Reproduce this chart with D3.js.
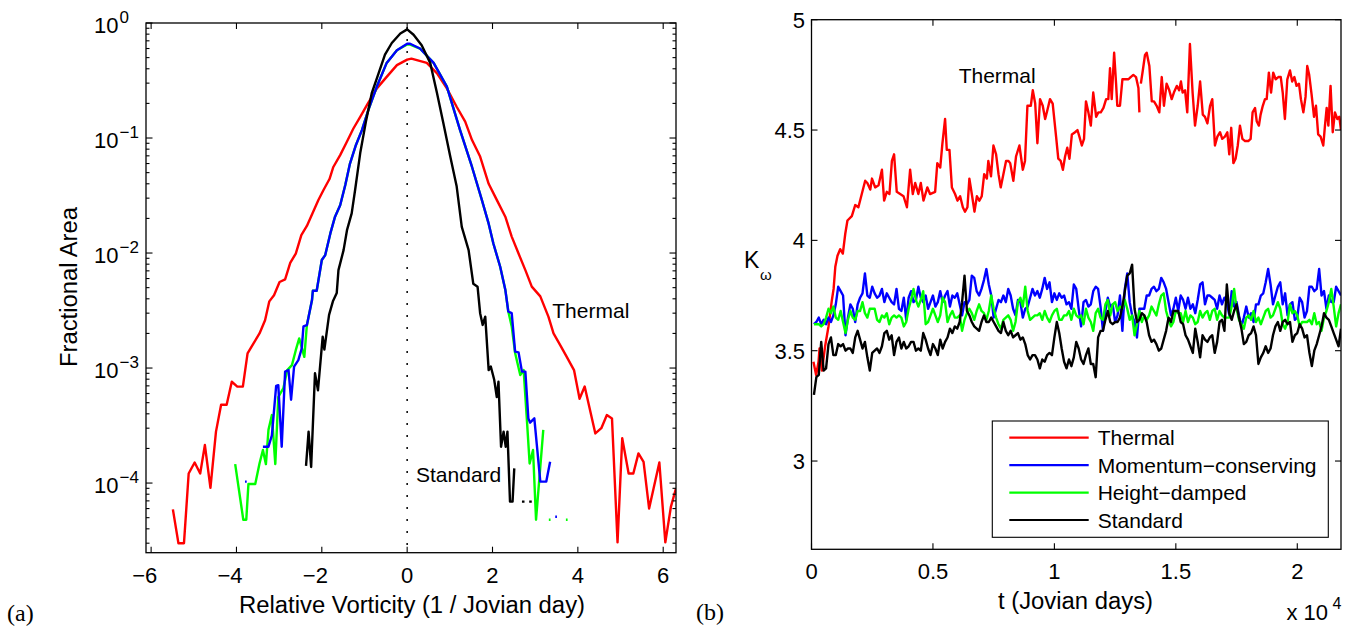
<!DOCTYPE html>
<html><head><meta charset="utf-8">
<script src="https://cdn.jsdelivr.net/npm/d3@7"></script>
<style>
body{margin:0;background:#fff}
svg{display:block}
text{font-family:"Liberation Sans",Arial,Helvetica,sans-serif;fill:#000}
</style>
</head><body>
<svg id="c" width="1365" height="633"></svg>
<script>
// ---------- Panel (a): vorticity PDFs ----------
const thermalVort = [-5.49,-5.36,-5.23,-5.12,-4.98,-4.85,-4.74,-4.61,-4.48,-4.36,-4.23,-4.11,-3.98,-3.85,-3.74,-3.60,-3.46,-3.33,-3.23,-3.12,-2.99,-2.86,-2.74,-2.61,-2.48,-2.35,-2.22,-2.08,-1.96,-1.82,-1.73,-1.57,-1.43,-1.26,-1.10,-0.94,-0.71,-0.48,-0.24,0.00,0.10,0.46,0.70,0.93,1.16,1.36,1.52,1.71,1.91,2.10,2.30,2.45,2.61,2.77,2.92,3.12,3.31,3.43,3.58,3.74,3.91,4.04,4.16,4.41,4.55,4.68,4.80,4.93,5.04,5.19,5.30,5.42,5.54,5.67,5.91,6.05,6.18,6.30];
const thermalArea = [5.9e-5,3.0e-5,3.0e-5,1.21e-4,1.51e-4,1.21e-4,2.14e-4,9.1e-5,2.8e-4,4.8e-4,4.8e-4,7.6e-4,6.9e-4,6.9e-4,1.34e-3,1.64e-3,2.0e-3,2.6e-3,3.8e-3,4.3e-3,5.6e-3,5.9e-3,8.2e-3,9.9e-3,1.43e-2,1.72e-2,2.21e-2,2.89e-2,3.53e-2,4.4e-2,5.6e-2,7.1e-2,9.0e-2,0.121,0.153,0.194,0.27,0.34,0.43,0.48,0.49,0.45,0.365,0.27,0.187,0.139,0.096,0.069,0.040,0.029,0.0207,0.0139,0.0099,0.0071,0.0051,0.0042,0.0028,0.0020,0.0016,0.00125,0.00096,0.00054,0.00069,0.00027,0.00030,0.00039,0.000365,0.0000305,0.000245,0.000121,0.000121,0.000181,0.000153,0.000060,0.000151,0.0000305,0.000062,0.000090];

const heightVort = [-4.03,-3.84,-3.77,-3.72,-3.56,-3.46,-3.38,-3.31,-3.25,-3.17,-3.09,-3.02,-2.90,-2.81,-2.70,-2.61,-2.53,-2.41,-2.35,-2.23,-2.21,-2.12,-2.00,-1.92,-1.80,-1.69,-1.57,-1.45,-1.34,-1.20,-1.06,-0.91,-0.71,-0.48,-0.24,0.00,0.07,0.30,0.62,0.93,1.24,1.52,1.75,1.91,2.02,2.18,2.30,2.37,2.45,2.53,2.65,2.73,2.81,2.87,2.95,3.02,3.19,null,3.32,3.36,null,3.72,3.76];
const heightArea = [1.46e-4,4.8e-5,4.8e-5,9.8e-5,9.8e-5,1.48e-4,1.94e-4,1.46e-4,2.9e-4,3.9e-4,1.46e-4,5.6e-4,6.7e-4,9.6e-4,1.06e-3,1.43e-3,1.81e-3,1.25e-3,2.36e-3,3.9e-3,4.7e-3,4.7e-3,8.7e-3,9.6e-3,1.48e-2,2.07e-2,2.6e-2,3.9e-2,6.0e-2,8.7e-2,0.117,0.175,0.28,0.45,0.58,0.65,0.65,0.60,0.45,0.28,0.117,0.056,0.029,0.018,0.0121,0.0076,0.0048,0.0031,0.0023,0.00135,8.7e-4,9.6e-4,3.35e-4,1.48e-4,1.94e-4,4.8e-5,2.9e-4,null,4.8e-5,4.8e-5,null,4.8e-5,4.8e-5];

const momentumVort = [-3.80,-3.76,null,-3.38,-3.25,-3.17,-3.07,-3.02,-2.94,-2.86,-2.78,-2.72,-2.65,-2.55,-2.47,-2.43,-2.35,-2.23,-2.21,-2.12,-2.00,-1.92,-1.80,-1.69,-1.57,-1.45,-1.34,-1.20,-1.06,-0.91,-0.71,-0.48,-0.24,0.00,0.07,0.30,0.62,0.93,1.24,1.52,1.75,1.91,2.02,2.18,2.30,2.37,2.45,2.53,2.61,2.69,2.77,2.84,2.88,2.98,3.12,3.26,3.35,null,3.47,3.51];
const momentumArea = [1.03e-4,1.03e-4,null,2.07e-4,2.07e-4,2.6e-4,7.0e-4,7.1e-4,2.07e-4,9.3e-4,9.6e-4,5.3e-4,1.03e-3,1.17e-3,1.48e-3,2.3e-3,2.36e-3,3.9e-3,4.7e-3,4.7e-3,8.7e-3,9.6e-3,1.48e-2,2.07e-2,2.6e-2,3.9e-2,6.0e-2,8.7e-2,0.117,0.175,0.28,0.45,0.58,0.66,0.66,0.60,0.45,0.28,0.117,0.056,0.029,0.018,0.0121,0.0076,0.0048,0.0031,0.0030,1.39e-3,1.37e-3,9.3e-4,9.3e-4,3.65e-4,3.35e-4,3.65e-4,1.03e-4,1.03e-4,1.53e-4,null,5.1e-5,5.1e-5];

const standardVort = [-2.37,-2.31,-2.25,-2.16,-2.09,-1.98,-1.94,-1.83,-1.74,-1.65,-1.61,-1.49,-1.41,-1.30,-1.22,-1.10,-0.96,-0.83,-0.67,-0.52,-0.36,-0.16,0.00,0.15,0.34,0.54,0.70,0.85,1.01,1.16,1.28,1.44,1.55,1.65,1.71,1.77,1.83,1.91,1.96,2.04,2.10,2.14,2.20,2.26,2.31,2.35,2.41,2.47,2.51,null,2.69,2.75,null,2.86,2.92];
const standardArea = [1.41e-4,2.8e-4,1.38e-4,9.0e-4,6.4e-4,1.87e-3,1.45e-3,2.9e-3,3.8e-3,4.5e-3,7.1e-3,1.06e-2,1.58e-2,2.21e-2,3.53e-2,7.4e-2,0.143,0.245,0.365,0.53,0.67,0.81,0.88,0.79,0.64,0.45,0.245,0.134,0.069,0.038,0.0169,0.0106,0.0054,0.0051,0.0030,2.37e-3,2.8e-3,9.6e-4,1.03e-3,7.9e-4,5.6e-4,7.6e-4,2.07e-4,2.8e-4,2.07e-4,2.8e-4,6.9e-5,6.9e-5,1.34e-4,null,6.9e-5,6.9e-5,null,6.9e-5,6.9e-5];

const vortTicks = [-6,-4,-2,0,2,4,6];
const vortTickLabels = ["\u22126","\u22124","\u22122","0","2","4","6"];
const areaTickExps = [0,-1,-2,-3,-4];
const areaTickExpLabels = ["0","\u22121","\u22122","\u22123","\u22124"];

// ---------- Panel (b): kurtosis time series ----------
const days = [100,200,300,400,500,600,700,800,900,1000,1100,1200,1300,1400,1500,1600,1700,1800,1900,2000,2100,2200,2300,2400,2500,2600,2700,2800,2900,3000,3100,3200,3300,3400,3500,3600,3700,3800,3900,4000,4100,4200,4300,4400,4500,4600,4700,4800,4900,5000,5100,5200,5300,5400,5500,5600,5700,5800,5900,6000,6100,6200,6300,6400,6500,6600,6700,6800,6900,7000,7100,7200,7300,7400,7500,7600,7700,7800,7900,8000,8100,8200,8300,8400,8500,8600,8700,8800,8900,9000,9100,9200,9300,9400,9500,9600,9700,9800,9900,10000,10100,10200,10300,10400,10500,10600,10700,10800,10900,11000,11100,11200,11300,11400,11500,11600,11700,11800,11900,12000,12100,12200,12300,12400,12500,12600,12700,12800,12900,13000,13100,13200,13300,13400,13500,13600,13700,13800,13900,14000,14100,14200,14300,14400,14500,14600,14700,14800,14900,15000,15100,15200,15300,15400,15500,15600,15700,15800,15900,16000,16100,16200,16300,16400,16500,16600,16700,16800,16900,17000,17100,17200,17300,17400,17500,17600,17700,17800,17900,18000,18100,18200,18300,18400,18500,18600,18700,18800,18900,19000,19100,19200,19300,19400,19500,19600,19700,19800,19900,20000,20100,20200,20300,20400,20500,20600,20700,20800,20900,21000,21100,21200,21300,21400,21500,21600,21700,21800];

const kMomentum = [3.62,3.63,3.65,3.62,3.64,3.62,3.65,3.63,3.66,3.71,
3.79,3.77,3.75,3.57,3.65,3.71,3.69,3.63,3.71,3.74,
3.76,3.85,3.75,3.74,3.79,3.76,3.74,3.75,3.78,3.72,
3.76,3.74,3.72,3.71,3.78,3.69,3.68,3.74,3.64,3.74,
3.77,3.72,3.73,3.79,3.74,3.72,3.75,3.69,3.72,3.75,
3.70,3.72,3.77,3.72,3.75,3.77,3.70,3.75,3.74,3.76,
3.71,3.66,3.72,3.71,3.73,3.84,3.83,3.77,3.75,3.78,
3.82,3.87,3.80,3.75,3.65,3.69,3.73,3.72,3.75,3.72,
3.78,3.75,3.69,3.66,3.73,3.72,3.65,3.69,3.70,3.74,
3.78,3.75,3.77,3.74,3.78,3.83,3.78,3.81,3.72,3.76,
3.73,3.76,3.74,3.75,3.71,3.72,3.69,3.80,
3.78,3.69,3.61,3.72,3.73,3.70,3.71,3.77,3.79,3.78,
3.70,3.59,3.68,3.74,3.70,3.71,3.63,3.66,3.75,3.59,
3.78,3.85,3.72,3.66,3.63,3.56,3.69,3.69,3.69,3.75,
3.75,3.78,3.79,3.77,3.78,3.83,3.81,3.78,3.72,3.66,
3.69,3.74,3.68,3.75,3.73,3.69,3.74,3.69,3.71,3.67,
3.73,3.80,3.81,3.71,3.75,3.75,3.74,3.73,3.69,3.75,
3.71,3.74,3.72,3.66,3.77,3.70,3.72,3.66,3.61,3.65,
3.70,3.65,3.67,3.63,3.71,3.71,3.75,3.76,3.81,3.87,
3.80,3.71,3.75,3.79,3.81,3.71,3.76,3.66,3.71,3.72,
3.64,3.65,3.74,3.72,3.65,3.68,3.79,3.79,3.77,3.78,
3.87,3.75,3.77,3.69,3.75,3.72,3.72,3.79,3.77,3.75];

const kHeight = [3.62,3.62,3.62,3.61,3.62,3.65,3.69,3.67,3.70,3.65,
3.64,3.68,3.63,3.58,3.64,3.68,3.65,3.64,3.68,3.68,
3.72,3.67,3.65,3.69,3.69,3.69,3.64,3.63,3.66,3.65,
3.67,3.62,3.65,3.66,3.65,3.66,3.65,3.61,3.63,3.69,
3.73,3.78,3.73,3.70,3.73,3.77,3.62,3.63,3.66,3.69,
3.66,3.63,3.66,3.74,3.72,3.63,3.66,3.68,3.65,3.65,
3.66,3.59,3.64,3.67,3.69,3.67,3.64,3.68,3.71,3.68,
3.67,3.64,3.68,3.75,3.69,3.65,3.62,3.60,3.64,3.65,
3.66,3.64,3.59,3.63,3.72,3.74,3.70,3.79,3.68,3.64,
3.65,3.66,3.66,3.67,3.64,3.68,3.65,3.63,3.66,3.68,
3.69,3.64,3.64,3.66,3.66,3.68,3.64,3.69,
3.66,3.65,3.66,3.62,3.69,3.65,3.63,3.59,3.67,3.69,
3.65,3.64,3.71,3.73,3.66,3.71,3.72,3.68,3.70,3.69,
3.73,3.69,3.64,3.66,3.57,3.62,3.68,3.63,3.66,3.64,
3.66,3.70,3.68,3.66,3.71,3.75,3.76,3.68,3.64,3.61,
3.63,3.68,3.67,3.67,3.63,3.68,3.63,3.66,3.65,3.62,
3.63,3.68,3.65,3.67,3.68,3.64,3.68,3.69,3.64,3.68,
3.66,3.65,3.65,3.65,3.70,3.78,3.69,3.64,3.62,3.60,
3.65,3.66,3.64,3.68,3.63,3.65,3.62,3.65,3.68,3.69,
3.65,3.66,3.69,3.72,3.69,3.62,3.60,3.63,3.71,3.67,
3.68,3.66,3.61,3.63,3.63,3.63,3.64,3.62,3.67,3.62,
3.63,3.59,3.65,3.68,3.72,3.78,3.70,3.61,3.67,3.71];

const kStandard = [3.30,3.38,3.39,3.54,3.41,3.42,3.53,3.56,3.48,3.48,
3.53,3.52,3.53,3.50,3.51,3.51,3.49,3.56,3.59,3.55,
3.51,3.54,3.47,3.41,3.49,3.50,3.51,3.49,3.52,3.58,
3.59,3.55,3.57,3.48,3.54,3.56,3.51,3.54,3.51,3.52,
3.54,3.54,3.50,3.51,3.50,3.58,3.55,3.51,3.48,3.53,
3.51,3.48,3.55,3.51,3.54,3.56,3.60,3.58,3.61,3.60,
3.63,3.72,3.84,3.68,3.66,3.63,3.61,3.60,3.59,3.63,
3.66,3.63,3.63,3.65,3.63,3.61,3.59,3.58,3.63,3.59,
3.57,3.59,3.56,3.57,3.58,3.55,3.56,3.53,3.48,3.46,
3.48,3.48,3.46,3.42,3.46,3.45,3.48,3.49,3.48,3.56,
3.63,3.58,3.51,3.45,3.42,3.46,3.43,3.47,
3.54,3.51,3.46,3.44,3.48,3.51,3.44,3.44,3.38,3.56,
3.59,3.59,3.64,3.68,3.63,3.62,3.63,3.63,3.65,3.70,
3.77,3.84,3.85,3.89,3.69,3.63,3.64,3.67,3.66,3.63,
3.57,3.54,3.55,3.53,3.50,3.51,3.55,3.59,3.65,3.63,
3.68,3.68,3.68,3.63,3.62,3.57,3.55,3.52,3.49,3.60,
3.54,3.47,3.57,3.55,3.54,3.56,3.57,3.49,3.54,3.63,
3.64,3.59,3.80,3.67,3.64,3.68,3.71,3.65,3.60,3.53,
3.54,3.57,3.58,3.61,3.57,3.44,3.47,3.49,3.52,3.49,
3.51,3.57,3.61,3.63,3.59,3.63,3.64,3.62,3.63,3.54,
3.57,3.58,3.62,3.60,3.56,3.57,3.49,3.43,3.50,3.53,
3.57,3.61,3.67,3.65,3.64,3.61,3.58,3.55,3.52,3.60];

const thermalDays = [80,190,290,330,430,560,700,840,910,980,1070,1180,1290,1390,1480,1660,1800,1930,2070,2210,2300,2420,2490,2620,2760,2900,2990,3100,3210,3310,3400,3510,3650,3790,3930,4060,4170,4270,4400,4500,4610,4770,4880,5090,5180,5300,5390,5500,5570,5680,5780,5910,6010,6120,6230,6320,6420,6500,6600,6710,6810,6910,7010,7110,7220,7280,7390,7490,7600,7700,7790,7900,8010,8110,8180,8310,8420,8560,8700,8790,8890,9030,9110,9210,9300,9410,9520,9620,9710,9820,9930,10070,10160,10260,10350,10440,10530,10620,10720,10850,10950,11030,11130,11220,11300,11400,11500,11600,11720,11810,11910,12020,12130,12220,12290,12360,12460,12540,12590,12700,12800,12910,13050,13140,13250,13360,13460,13500,13530,13560,13640,13730,13800,13910,14010,14100,14210,14320,14420,14510,14620,14730,14830,14920,15040,15140,15210,15280,15380,15470,15580,15690,15790,15900,16000,16110,16200,16300,16410,16500,16610,16710,16820,16910,17020,17120,17200,17280,17370,17460,17550,17640,17740,17850,17980,18080,18160,18260,18330,18420,18490,18580,18670,18740,18830,18920,19010,19110,19220,19320,19400,19490,19590,19700,19790,19880,19970,20070,20150,20250,20340,20410,20490,20590,20690,20770,20860,20960,21070,21140,21210,21280,21370,21460,21550,21650,21730,21800];
const kThermal = [3.45,3.39,3.45,3.51,3.41,3.52,3.61,3.73,3.78,3.88,3.93,3.96,3.94,4.03,4.09,4.11,4.16,4.15,4.21,4.27,4.26,4.23,4.28,4.24,4.25,4.32,4.18,4.22,4.21,4.36,4.39,4.22,4.21,4.20,4.15,4.32,4.21,4.26,4.21,4.26,4.18,4.24,4.21,4.22,4.35,4.33,4.44,4.55,4.41,4.41,4.24,4.21,4.18,4.20,4.15,4.13,4.15,4.28,4.21,4.13,4.20,4.18,4.20,4.30,4.28,4.36,4.29,4.43,4.39,4.30,4.24,4.30,4.36,4.36,4.35,4.27,4.38,4.43,4.32,4.36,4.61,4.61,4.68,4.62,4.44,4.64,4.61,4.55,4.59,4.64,4.62,4.47,4.37,4.36,4.32,4.38,4.42,4.37,4.48,4.49,4.50,4.47,4.43,4.46,4.63,4.58,4.52,4.67,4.56,4.58,4.58,4.60,4.64,4.64,4.78,4.64,4.85,4.71,4.61,4.61,4.73,4.73,4.73,4.74,4.75,4.74,4.69,4.58,null,4.71,4.77,4.84,4.85,4.79,4.63,4.63,4.61,4.58,4.74,4.61,4.71,4.68,4.64,4.67,4.70,4.68,4.72,4.67,4.68,4.58,4.89,4.67,4.52,4.61,4.72,4.57,4.56,4.53,4.61,4.64,4.43,4.47,4.49,4.46,4.47,4.49,4.39,4.51,4.35,4.37,4.43,4.52,4.46,4.45,4.45,4.46,4.58,4.60,4.54,4.52,4.57,4.61,4.64,4.64,4.76,4.67,4.76,4.73,4.74,4.74,4.67,4.55,4.73,4.77,4.72,4.74,4.70,4.71,4.64,4.58,4.65,4.79,4.75,4.66,4.56,4.61,4.48,4.47,4.43,4.52,4.60,4.52,4.70,4.49,4.58,4.55,4.56,4.50];

const dayTicks = [0,5000,10000,15000,20000];
const dayTickLabels = ["0","0.5","1","1.5","2"];
const kTicks = [3,3.5,4,4.5,5];
const kTickLabels = ["3","3.5","4","4.5","5"];

const legendNames = ["Thermal","Momentum\u2212conserving","Height\u2212damped","Standard"];
const legendColors = ["#ff0000","#0000ff","#00ff00","#000000"];

// ---------- drawing ----------
const svg = d3.select("#c");
const defs = svg.append("defs");
const LW = 2.4;

function frame(x0,y0,x1,y1){
  svg.append("rect").attr("x",x0).attr("y",y0).attr("width",x1-x0).attr("height",y1-y0)
    .attr("fill","none").attr("stroke","#000").attr("stroke-width",1.3);
}
function tick(x1,y1,x2,y2){
  svg.append("line").attr("x1",x1).attr("y1",y1).attr("x2",x2).attr("y2",y2)
    .attr("stroke","#000").attr("stroke-width",1.1);
}

// ----- Panel (a)
const A = {x0:146, x1:676, y0:23, y1:552.7};
const xA = d3.scaleLinear().domain([-6.12, 6.30]).range([A.x0, A.x1]);
const yA = d3.scaleLog().domain([2.48e-5, 1]).range([A.y1, A.y0]);

defs.append("clipPath").attr("id","clipA").append("rect")
  .attr("x",A.x0).attr("y",A.y0).attr("width",A.x1-A.x0).attr("height",A.y1-A.y0);

// dotted zero line
svg.append("line").attr("x1",xA(0)).attr("x2",xA(0)).attr("y1",A.y0+4).attr("y2",A.y1)
  .attr("stroke","#000").attr("stroke-width",1.5).attr("stroke-dasharray","2,10");

const gA = svg.append("g").attr("clip-path","url(#clipA)");
const lineA = d3.line().defined(d => d[0] != null && d[1] != null)
  .x(d => xA(d[0])).y(d => yA(d[1]));
function pdf(xs, ys, color){
  gA.append("path").datum(d3.zip(xs, ys)).attr("d", lineA)
    .attr("fill","none").attr("stroke",color).attr("stroke-width",LW)
    .attr("stroke-linejoin","round").attr("stroke-linecap","butt");
}
pdf(thermalVort, thermalArea, "#ff0000");
pdf(heightVort, heightArea, "#00ff00");
pdf(momentumVort, momentumArea, "#0000ff");
pdf(standardVort, standardArea, "#000000");

frame(A.x0, A.y0, A.x1, A.y1);
vortTicks.forEach((v,i) => {
  const x = xA(v);
  tick(x, A.y1, x, A.y1-6); tick(x, A.y0, x, A.y0+6);
  svg.append("text").attr("x", x+6.1).attr("y", A.y1+30.5).attr("text-anchor","end")
    .style("font-size","22px").text(vortTickLabels[i]);
});
for (let d=-5; d<0; d++){
  for (let m=2; m<=9; m++){
    const v = m*Math.pow(10,d);
    if (v < yA.domain()[0] || v > 1) continue;
    const y = yA(v);
    tick(A.x0, y, A.x0+3.5, y); tick(A.x1, y, A.x1-3.5, y);
  }
}
areaTickExps.forEach((e,i) => {
  const y = yA(Math.pow(10,e));
  tick(A.x0, y, A.x0+6.5, y); tick(A.x1, y, A.x1-6.5, y);
  svg.append("text").attr("x", 118.5).attr("y", y+10).attr("text-anchor","end")
    .style("font-size","22px").text("10");
  svg.append("text").attr("x", 119.5).attr("y", y-0.5).attr("text-anchor","start")
    .style("font-size","17px").text(areaTickExpLabels[i]);
});
svg.append("text").attr("x", 412).attr("y", 613).attr("text-anchor","middle")
  .attr("textLength",346).attr("lengthAdjust","spacingAndGlyphs")
  .style("font-size","23px").text("Relative Vorticity (1 / Jovian day)");
svg.append("text").attr("transform","translate(77,287) rotate(-90)").attr("text-anchor","middle")
  .attr("textLength",160).attr("lengthAdjust","spacingAndGlyphs")
  .style("font-size","23px").text("Fractional Area");
svg.append("text").attr("x",552.3).attr("y",318.3).style("font-size","21px").text("Thermal");
svg.append("text").attr("x",416).attr("y",481.7).style("font-size","21px").text("Standard");
svg.append("text").attr("x",7).attr("y",621).style("font-family","'Liberation Serif','DejaVu Serif',serif")
  .style("font-size","24px").text("(a)");

// ----- Panel (b)
const B = {x0:811.5, x1:1341, y0:19.7, y1:549.3};
const xB = d3.scaleLinear().domain([0, 21800]).range([B.x0, B.x1]);
const yB = d3.scaleLinear().domain([2.6, 5]).range([B.y1, B.y0]);
defs.append("clipPath").attr("id","clipB").append("rect")
  .attr("x",B.x0).attr("y",B.y0).attr("width",B.x1-B.x0).attr("height",B.y1-B.y0);
const gB = svg.append("g").attr("clip-path","url(#clipB)");
const lineB = d3.line().defined(d => d[1] != null).x(d => xB(d[0])).y(d => yB(d[1]));
function series(ts, ks, color){
  gB.append("path").datum(d3.zip(ts, ks)).attr("d", lineB)
    .attr("fill","none").attr("stroke",color).attr("stroke-width",LW)
    .attr("stroke-linejoin","round");
}
series(thermalDays, kThermal, "#ff0000");
series(days, kMomentum, "#0000ff");
series(days, kHeight, "#00ff00");
series(days, kStandard, "#000000");

frame(B.x0, B.y0, B.x1, B.y1);
dayTicks.forEach((v,i) => {
  const x = xB(v);
  tick(x, B.y1, x, B.y1-6); tick(x, B.y0, x, B.y0+6);
  svg.append("text").attr("x", x).attr("y", B.y1+30).attr("text-anchor","middle")
    .style("font-size","22px").text(dayTickLabels[i]);
});
kTicks.forEach((v,i) => {
  const y = yB(v);
  tick(B.x0, y, B.x0+6, y); tick(B.x1, y, B.x1-6, y);
  svg.append("text").attr("x", 805).attr("y", y+8).attr("text-anchor","end")
    .style("font-size","22px").text(kTickLabels[i]);
});
svg.append("text").attr("x", 1075.5).attr("y", 609).attr("text-anchor","middle")
  .attr("textLength",155).attr("lengthAdjust","spacingAndGlyphs")
  .style("font-size","23px").text("t (Jovian days)");
svg.append("text").attr("x",1286.5).attr("y",620).style("font-size","22px").text("x 10");
svg.append("text").attr("x",1332.5).attr("y",609).style("font-size","16px").text("4");
svg.append("text").attr("x",744).attr("y",268).style("font-size","23px").text("K");
svg.append("text").attr("x",760).attr("y",280).style("font-size","15px").text("\u03c9");
svg.append("text").attr("x",958.7).attr("y",82.7).style("font-size","21px").text("Thermal");
svg.append("text").attr("x",696).attr("y",620).style("font-family","'Liberation Serif','DejaVu Serif',serif")
  .style("font-size","24px").text("(b)");

// legend
const leg = {x0:992.3, y0:421, x1:1328.3, y1:537.3};
svg.append("rect").attr("x",leg.x0).attr("y",leg.y0).attr("width",leg.x1-leg.x0).attr("height",leg.y1-leg.y0)
  .attr("fill","#fff").attr("stroke","#000").attr("stroke-width",1.1);
const rowY = d3.scalePoint().domain(legendNames).range([437.7, 520]);
legendNames.forEach((n,i) => {
  const y = rowY(n);
  svg.append("line").attr("x1",1009.3).attr("x2",1088.7).attr("y1",y).attr("y2",y)
    .attr("stroke",legendColors[i]).attr("stroke-width",2.2);
  svg.append("text").attr("x",1097.7).attr("y",y+7.6).style("font-size","21px").text(n);
});
</script>
</body></html>
